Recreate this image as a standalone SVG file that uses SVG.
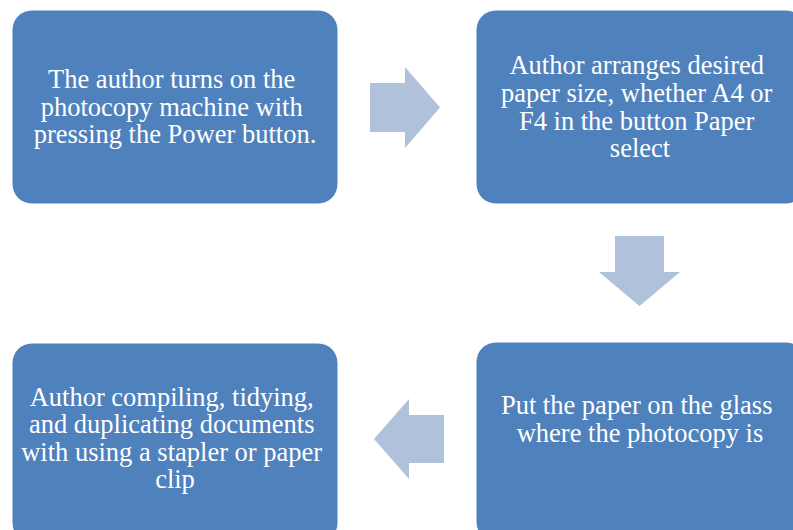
<svg xmlns="http://www.w3.org/2000/svg" width="793" height="530" viewBox="0 0 793 530">
  <style>
    .box { fill: #4f81bd; stroke: #ffffff; stroke-width: 1; }
    .arrow { fill: #b0c1dc; }
    .label { font-family: "Liberation Serif", "Times New Roman", serif; font-size: 26.5px; fill: #ffffff; text-anchor: middle; }
  </style>
  <rect width="793" height="530" fill="#ffffff"/>

  <g id="step1">
    <rect class="box" x="12" y="10" width="326" height="194" rx="20" ry="20"/>
    <text class="label">
      <tspan x="175" y="88">The author turns on the</tspan>
      <tspan x="175" y="116">photocopy machine with</tspan>
      <tspan x="175" y="143">pressing the Power button.</tspan>
    </text>
  </g>

  <g id="step2">
    <rect class="box" x="476" y="10" width="330" height="194" rx="20" ry="20"/>
    <text class="label">
      <tspan x="640" y="74">Author arranges desired</tspan>
      <tspan x="640" y="102">paper size, whether A4 or</tspan>
      <tspan x="640" y="130">F4 in the button Paper</tspan>
      <tspan x="640" y="157">select</tspan>
    </text>
  </g>

  <g id="step3">
    <rect class="box" x="476" y="342" width="330" height="200" rx="20" ry="20"/>
    <text class="label">
      <tspan x="640" y="414">Put the paper on the glass</tspan>
      <tspan x="640" y="442">where the photocopy is</tspan>
    </text>
  </g>

  <g id="step4">
    <rect class="box" x="12" y="343" width="326" height="200" rx="20" ry="20"/>
    <text class="label">
      <tspan x="175" y="406">Author compiling, tidying,</tspan>
      <tspan x="175" y="433">and duplicating documents</tspan>
      <tspan x="175" y="461">with using a stapler or paper</tspan>
      <tspan x="175" y="488">clip</tspan>
    </text>
  </g>

  <g id="connectors">
    <!-- step1 to step2 -->
    <polygon class="arrow" points="370,83 405,83 405,67 440,107.5 405,148 405,132 370,132"/>
    <!-- step2 to step3 -->
    <polygon class="arrow" points="615,236 664,236 664,272 680,272 639.5,306 599,272 615,272"/>
    <!-- step3 to step4 -->
    <polygon class="arrow" points="444,415 409,415 409,399 374,439 409,479 409,463 444,463"/>
  </g>
</svg>
